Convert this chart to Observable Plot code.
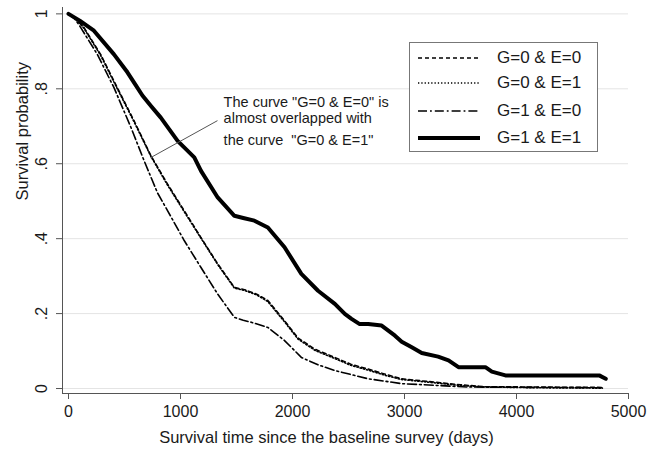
<!DOCTYPE html>
<html>
<head>
<meta charset="utf-8">
<script src="https://cdn.jsdelivr.net/npm/d3@7"></script>
<script src="https://cdn.jsdelivr.net/npm/@observablehq/plot@0.6"></script>
<style>
  html, body { margin: 0; padding: 0; background: #fff; }
  #wrap { position: relative; width: 657px; height: 451px; font-family: "Liberation Sans", Arial, sans-serif; }
  #legend { position: absolute; left: 409px; top: 42px; width: 189px; height: 110px; border: 1px solid #777; background: #fff; box-sizing: border-box; }
  .item { position: absolute; left: 7px; height: 22px; display: flex; align-items: center; }
  .item span { font-size: 17px; color: #1a1a1a; margin-left: 16px; white-space: nowrap; }
</style>
</head>
<body>
<div id="wrap"><div id="legend"></div></div>
<script>
// Series names
const seriesNames = ["G=0 & E=0", "G=0 & E=1", "G=1 & E=0", "G=1 & E=1"];

// G=0 & E=0 (dashed)
const tG0E0 = [0, 70, 137, 287, 436, 585, 735, 884, 1033, 1183, 1332, 1481, 1571, 1680, 1780, 1929, 2049, 2200, 2378, 2520, 2676, 2830, 2975, 3273, 3500, 3722, 4200, 4767];
const sG0E0 = [1, 0.985, 0.964, 0.892, 0.803, 0.715, 0.622, 0.546, 0.475, 0.403, 0.333, 0.27, 0.264, 0.252, 0.235, 0.181, 0.135, 0.105, 0.083, 0.065, 0.052, 0.038, 0.026, 0.017, 0.010, 0.005, 0.004, 0.003];

// G=0 & E=1 (dotted)
const tG0E1 = [0, 70, 137, 287, 436, 585, 735, 884, 1033, 1183, 1332, 1481, 1571, 1680, 1780, 1929, 2049, 2200, 2378, 2520, 2676, 2830, 2975, 3273, 3500, 3722, 4200, 4767];
const sG0E1 = [1, 0.984, 0.962, 0.889, 0.800, 0.712, 0.620, 0.543, 0.472, 0.401, 0.331, 0.268, 0.262, 0.250, 0.232, 0.178, 0.132, 0.102, 0.080, 0.062, 0.049, 0.035, 0.024, 0.015, 0.008, 0.004, 0.002, 0.001];

// G=1 & E=0 (dash-dot)
const tG1E0 = [0, 60, 108, 257, 406, 556, 675, 795, 884, 1033, 1183, 1332, 1481, 1560, 1631, 1780, 1929, 2079, 2230, 2378, 2676, 2975, 3300, 3571, 4767];
const sG1E0 = [1, 0.985, 0.964, 0.892, 0.803, 0.698, 0.608, 0.522, 0.475, 0.395, 0.323, 0.252, 0.19, 0.182, 0.177, 0.163, 0.128, 0.083, 0.063, 0.048, 0.026, 0.013, 0.008, 0.004, 0.002];

// G=1 & E=1 (thick solid)
const tG1E1 = [0, 100, 227, 406, 526, 600, 660, 740, 824, 974, 1123, 1183, 1332, 1481, 1560, 1660, 1780, 1929, 2079, 2228, 2378, 2467, 2527, 2600, 2676, 2796, 2915, 2975, 3065, 3154, 3300, 3393, 3482, 3722, 3780, 3901, 4738, 4797];
const sG1E1 = [1, 0.982, 0.955, 0.892, 0.844, 0.810, 0.782, 0.753, 0.723, 0.661, 0.617, 0.581, 0.51, 0.461, 0.455, 0.448, 0.43, 0.377, 0.306, 0.261, 0.226, 0.199, 0.186, 0.172, 0.172, 0.168, 0.141, 0.125, 0.11, 0.095, 0.085, 0.075, 0.057, 0.057, 0.045, 0.035, 0.035, 0.026];

// Axis ticks and titles
const xTicks = [0, 1000, 2000, 3000, 4000, 5000];
const yTicks = [0, 0.2, 0.4, 0.6, 0.8, 1];
const yTickLabels = ["0", ".2", ".4", ".6", ".8", "1"];
const xTitle = "Survival time since the baseline survey (days)";
const yTitle = "Survival probability";

// Annotation
const noteLines = ["The curve \"G=0 & E=0\" is", "almost overlapped with", "the curve  \"G=0 & E=1\""];
const noteX = [1385, 1385, 1385];
const noteY = [0.764, 0.722, 0.662];
const noteLink = {x1: 732, y1: 0.616, x2: 1330, y2: 0.715};

const styles = [
  {dash: "4,3", width: 1.5},
  {dash: "1.3,2", width: 1.6},
  {dash: "9,3,1.8,3", width: 1.6},
  {dash: null, width: 4}
];
const tArr = [tG0E0, tG0E1, tG1E0, tG1E1];
const sArr = [sG0E0, sG0E1, sG1E0, sG1E1];

const rows = (ts, ss) => ts.map((t, i) => ({t, s: ss[i]}));

const lineMarks = tArr.map((ts, k) => Plot.line(rows(ts, sArr[k]), {
  x: "t", y: "s", stroke: "#000", strokeWidth: styles[k].width,
  strokeDasharray: styles[k].dash, strokeLinejoin: "round"
}));

const chart = Plot.plot({
  width: 657,
  height: 451,
  marginLeft: 62,
  marginRight: 29,
  marginTop: 7,
  marginBottom: 58,
  style: {fontFamily: "'Liberation Sans', Arial, sans-serif", background: "#fff", color: "#1a1a1a"},
  x: {domain: [-53.6, 5000]},
  y: {domain: [-0.0133, 1.017]},
  marks: [
    Plot.gridY(yTicks, {stroke: "#e4e4e4", strokeOpacity: 1, strokeWidth: 1}),
    Plot.axisY(yTicks, {
      tickSize: 6, tickPadding: 10, tickRotate: -90, fontSize: 16,
      tickFormat: d => yTickLabels[yTicks.indexOf(d)],
      stroke: "#555", label: null
    }),
    Plot.axisX(xTicks, {
      tickSize: 6, tickPadding: 6, fontSize: 16, stroke: "#555",
      tickFormat: d => String(d), label: null
    }),
    Plot.frame({anchor: "left", stroke: "#555"}),
    Plot.frame({anchor: "bottom", stroke: "#555"}),
    Plot.text([yTitle], {frameAnchor: "left", dx: -40, rotate: -90, text: d => d, fontSize: 16.5, fill: "#1a1a1a", lineAnchor: "middle"}),
    Plot.text([xTitle], {frameAnchor: "bottom", dx: -19, dy: 44, text: d => d, fontSize: 16.5, fill: "#1a1a1a", lineAnchor: "middle"}),
    ...lineMarks,
    Plot.link([noteLink], {x1: "x1", y1: "y1", x2: "x2", y2: "y2", stroke: "#555", strokeWidth: 1}),
    Plot.text(noteLines, {x: (d, i) => noteX[i], y: (d, i) => noteY[i], text: d => d, textAnchor: "start", fontSize: 14.5, fill: "#1a1a1a"})
  ]
});
document.getElementById("wrap").prepend(chart);

// Legend
const legend = document.getElementById("legend");
const itemTops = [4, 29, 57, 84];
seriesNames.forEach((name, k) => {
  const item = document.createElement("div");
  item.className = "item";
  item.style.top = itemTops[k] + "px";
  const svg = d3.create("svg").attr("width", 64).attr("height", 12);
  svg.append("line").attr("x1", 1).attr("x2", 63).attr("y1", 6).attr("y2", 6)
    .attr("stroke", "#000").attr("stroke-width", styles[k].width)
    .attr("stroke-dasharray", styles[k].dash);
  item.appendChild(svg.node());
  const span = document.createElement("span");
  span.textContent = name;
  item.appendChild(span);
  legend.appendChild(item);
});
</script>
</body>
</html>
